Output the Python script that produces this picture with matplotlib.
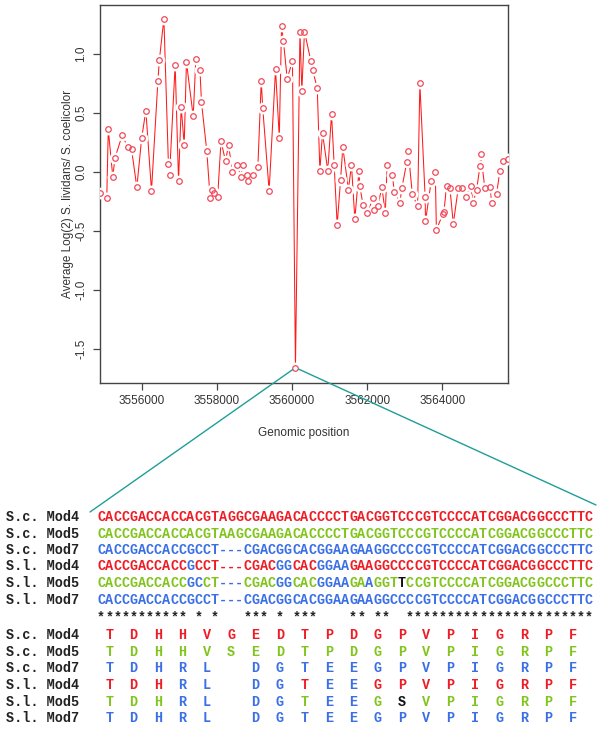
import numpy as np
import matplotlib
matplotlib.use('Agg')
import matplotlib.pyplot as plt
from matplotlib.patches import ConnectionPatch

plt.rcParams['font.family'] = ['Liberation Sans', 'DejaVu Sans']

# ---------------- data ----------------
positions = [3554890, 3555070, 3555110, 3555230, 3555290, 3555480, 3555630, 3555730, 3555870, 3556000,
             3556110, 3556260, 3556430, 3556470, 3556590, 3556710, 3556740, 3556890, 3556980, 3557050,
             3557130, 3557190, 3557370, 3557440, 3557550, 3557590, 3557730, 3557820, 3557860, 3557910,
             3558020, 3558110, 3558230, 3558310, 3558410, 3558530, 3558640, 3558690, 3558810, 3558840,
             3558950, 3559090, 3559180, 3559220, 3559390, 3559560, 3559660, 3559720, 3559770, 3559870,
             3560010, 3560090, 3560210, 3560260, 3560330, 3560500, 3560550, 3560670, 3560740, 3560810,
             3560950, 3561050, 3561120, 3561200, 3561290, 3561350, 3561500, 3561580, 3561670, 3561780,
             3561800, 3561890, 3562000, 3562160, 3562180, 3562280, 3562390, 3562480, 3562530, 3562670,
             3562720, 3562870, 3562920, 3563050, 3563090, 3563200, 3563340, 3563400, 3563540, 3563550,
             3563700, 3563810, 3563840, 3564010, 3564040, 3564110, 3564200, 3564290, 3564420, 3564510,
             3564620, 3564750, 3564820, 3564910, 3565000, 3565020, 3565130, 3565270, 3565310, 3565440,
             3565530, 3565620, 3565740]
log_ratio = [-0.18, -0.22, 0.36, -0.04, 0.12, 0.31, 0.21, 0.19, -0.13, 0.29,
             0.52, -0.16, 0.77, 0.95, 1.30, 0.07, -0.03, 0.91, -0.08, 0.55,
             0.23, 0.93, 0.47, 0.96, 0.86, 0.59, 0.18, -0.22, -0.15, -0.18,
             -0.21, 0.26, 0.09, 0.23, 0.00, 0.06, -0.04, 0.06, -0.03, -0.08,
             -0.03, 0.04, 0.77, 0.54, -0.16, 0.87, 0.29, 1.24, 1.11, 0.79,
             0.94, -1.66, 1.19, 0.69, 1.19, 0.94, 0.86, 0.71, 0.01, 0.33,
             0.01, 0.49, 0.06, -0.45, -0.07, 0.21, -0.15, 0.06, -0.40, 0.01,
             -0.12, -0.28, -0.35, -0.22, -0.32, -0.29, -0.13, -0.35, 0.06, -0.03,
             -0.17, -0.26, -0.14, 0.08, 0.18, -0.19, -0.29, 0.75, -0.21, -0.42,
             -0.08, 0.00, -0.49, -0.36, -0.34, -0.12, -0.14, -0.44, -0.14, -0.14,
             -0.21, -0.12, -0.26, -0.15, 0.05, 0.15, -0.14, -0.13, -0.26, -0.19,
             0.01, 0.09, 0.11]

x_ticks = [3556000, 3558000, 3560000, 3562000, 3564000]
y_ticks = [-1.5, -1.0, -0.5, 0.0, 0.5, 1.0]

row_labels = ['S.c. Mod4', 'S.c. Mod5', 'S.c. Mod7', 'S.l. Mod4', 'S.l. Mod5', 'S.l. Mod7']
dna_seqs = [
    'CACCGACCACCACGTAGGCGAAGACACCCCTGACGGTCCCGTCCCCATCGGACGGCCCTTC',
    'CACCGACCACCACGTAAGCGAAGACACCCCTGACGGTCCCGTCCCCATCGGACGGCCCTTC',
    'CACCGACCACCGCCT---CGACGGCACGGAAGAAGGCCCCGTCCCCATCGGACGGCCCTTC',
    'CACCGACCACCGCCT---CGACGGCACGGAAGAAGGCCCCGTCCCCATCGGACGGCCCTTC',
    'CACCGACCACCGCCT---CGACGGCACGGAAGAAGGTTCCGTCCCCATCGGACGGCCCTTC',
    'CACCGACCACCGCCT---CGACGGCACGGAAGAAGGCCCCGTCCCCATCGGACGGCCCTTC',
]
# r = Mod4 (red), g = Mod5 (green), b = Mod7 (blue), k = black
dna_cols = [
    'r' * 61,
    'g' * 61,
    'b' * 61,
    'r' * 11 + 'b' + 'r' * 10 + 'bb' + 'rrr' + 'bbbb' + 'r' * 30,
    'g' * 11 + 'bb' + 'gg' + 'bbb' + 'gggg' + 'bb' + 'ggg' + 'bbbb' + 'gg' + 'b' + 'ggg' + 'k' + 'g' * 23,
    'b' * 61,
]
star_row = '*********** * *   *** * ***    ** **  ***********************'
prot_seqs = [
    'TDHHVGEDTPDGPVPIGRPF',
    'TDHHVSEDTPDGPVPIGRPF',
    'TDHRL DGTEEGPVPIGRPF',
    'TDHRL DGTEEGPVPIGRPF',
    'TDHRL DGTEEGSVPIGRPF',
    'TDHRL DGTEEGPVPIGRPF',
]
prot_cols = [
    'r' * 20,
    'g' * 20,
    'b' * 20,
    'rrr' + 'bbbbb' + 'r' + 'bb' + 'r' * 9,
    'ggg' + 'bbbbb' + 'g' + 'bb' + 'g' + 'k' + 'g' * 7,
    'b' * 20,
]
palette = {'r': '#ee1c24', 'g': '#80c41c', 'b': '#3a6fe6', 'k': '#111111'}

# ---------------- figure ----------------
W, H = 600, 734
fig = plt.figure(figsize=(W / 100, H / 100), dpi=100)
ax = fig.add_axes([100 / W, 1 - 383 / H, 408 / W, 378 / H])

# R style type="b": line with gaps around the points
ax.plot(positions, log_ratio, color='#ff1a1a', lw=0.75, zorder=2)
ax.plot(positions, log_ratio, ls='none', marker='o', ms=8.5, mfc='white', mec='none', zorder=3)
ax.plot(positions, log_ratio, ls='none', marker='o', ms=4.0, mfc='none', mec='#f04a5a', mew=0.9, zorder=4)

ax.set_xlim(3554890, 3565745)
ax.set_ylim(-1.79, 1.415)
ax.set_xticks(x_ticks)
ax.set_xticklabels([str(v) for v in x_ticks])
ax.set_yticks(y_ticks)
ax.set_yticklabels(['%.1f' % v for v in y_ticks])
for sp in ax.spines.values():
    sp.set_color('#444444')
    sp.set_linewidth(1.0)
ax.tick_params(direction='out', length=5, width=0.9, color='#444444', labelsize=8.5,
               labelcolor='#333333', pad=4)
ax.tick_params(axis='y', labelrotation=90)
for lab in ax.get_yticklabels():
    lab.set_va('center')
ax.set_xlabel('Genomic position', fontsize=8.5, color='#333333', labelpad=14)
ax.set_ylabel('Average Log(2) S. lividans/ S. coelicolor', fontsize=8.5, color='#333333', labelpad=1)

# zoom lines from the minimum down to the alignment
imin = int(np.argmin(log_ratio))
teal = '#1f9e98'
for end in [(90 / W, 1 - 512 / H), (596 / W, 1 - 505 / H)]:
    con = ConnectionPatch(xyA=(positions[imin], log_ratio[imin]), coordsA=ax.transData,
                          xyB=end, coordsB=fig.transFigure, color=teal, lw=1.0,
                          shrinkA=2.5, shrinkB=0)
    con.set_clip_on(False)
    fig.add_artist(con)

# ---------------- alignment text ----------------
mono = dict(family='Liberation Mono', weight='bold', size=9.75)
x0, cw = 97.0, 8.13
dna_y = [517, 533.5, 550, 566.5, 583, 599.5]
prot_y = [635, 651.7, 668.3, 685, 701.7, 718.3]


def fx(px):
    return px / W


def fy(py):
    return 1 - py / H


for lab, yy in zip(row_labels, dna_y):
    fig.text(fx(6), fy(yy), lab, color='#222222', ha='left', va='center', **mono)
for lab, yy in zip(row_labels, prot_y):
    fig.text(fx(6), fy(yy), lab, color='#222222', ha='left', va='center', **mono)

for seq, cols, yy in zip(dna_seqs, dna_cols, dna_y):
    for i, (ch, c) in enumerate(zip(seq, cols)):
        fig.text(fx(x0 + (i + 0.5) * cw), fy(yy), ch, color=palette[c], ha='center', va='center', **mono)

for i, ch in enumerate(star_row):
    if ch != ' ':
        fig.text(fx(x0 + (i + 0.5) * cw), fy(617), ch, color='#222222', ha='center', va='center', **mono)

for seq, cols, yy in zip(prot_seqs, prot_cols, prot_y):
    for j, (ch, c) in enumerate(zip(seq, cols)):
        if ch != ' ':
            fig.text(fx(x0 + (3 * j + 1.5) * cw), fy(yy), ch, color=palette[c], ha='center', va='center', **mono)

fig.savefig('out.png', dpi=100)
